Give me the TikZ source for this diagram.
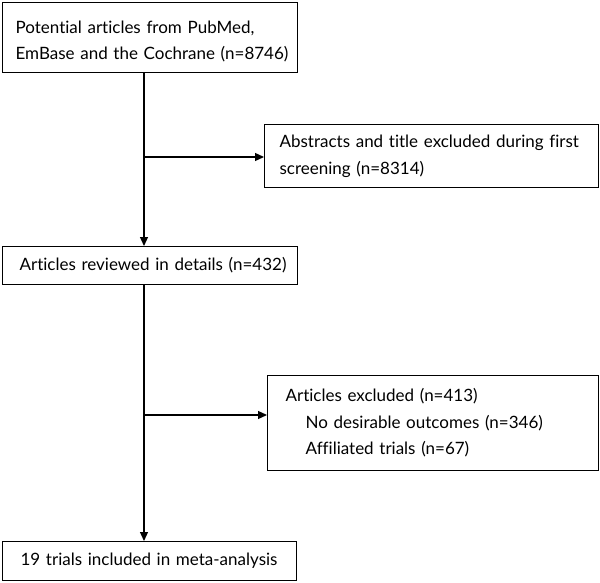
\documentclass[tikz,border=0pt]{standalone}
\usepackage{fontspec}
\setmainfont{Lato}[Ligatures=NoCommon]
\usetikzlibrary{arrows.meta,positioning}

\tikzset{
    box/.style={draw, line width=1.2pt, rectangle, anchor=north west, align=left,
        font=\fontsize{17}{26.5}\selectfont, inner ysep=0pt},
    flow/.style={draw, line width=1.2pt, -{Triangle[length=9pt,width=8pt]}}
}

\begin{document}
\begin{tikzpicture}[x=1pt,y=-1pt]
    \useasboundingbox (0,0) rectangle (600,583);
    % boxes of the main column
    \node [box, inner xsep=13pt, text width=269pt, minimum height=70pt] (potential) at (2,2)
    {\rule{0pt}{20pt}Potential articles from PubMed,\\\mbox{EmBase and the Cochrane (n=8746)}};
    \node [box, inner xsep=17pt, text width=261pt, minimum height=38pt] (reviewed) at (2,246)
    {\mbox{Articles reviewed in details (n=432)}};
    \node [box, inner xsep=18pt, text width=258pt, minimum height=39pt] (included) at (2,541)
    {19 trials included in meta-analysis};
    % boxes of the excluded records
    \node [box, inner xsep=15pt, text width=304pt, minimum height=63pt] (abstracts) at (264,124)
    {Abstracts and title excluded during first\\screening (n=8314)};
    \node [box, inner xsep=18pt, text width=295pt, minimum height=95pt] (excluded) at (267,375)
    {Articles excluded (n=413)\\\hspace*{20pt}No desirable outcomes (n=346)\\\hspace*{20pt}Affiliated trials (n=67)};
    % joints
    \coordinate (j1) at (144,157);
    \coordinate (j2) at (144,415);
    \draw [flow] (potential.south -| j1) -- (reviewed.north -| j1);
    \draw [flow] (j1) -- (j1 -| abstracts.west);
    \draw [flow] (reviewed.south -| j2) -- (included.north -| j2);
    \draw [flow] (j2) -- (j2 -| excluded.west);
\end{tikzpicture}
\end{document}
